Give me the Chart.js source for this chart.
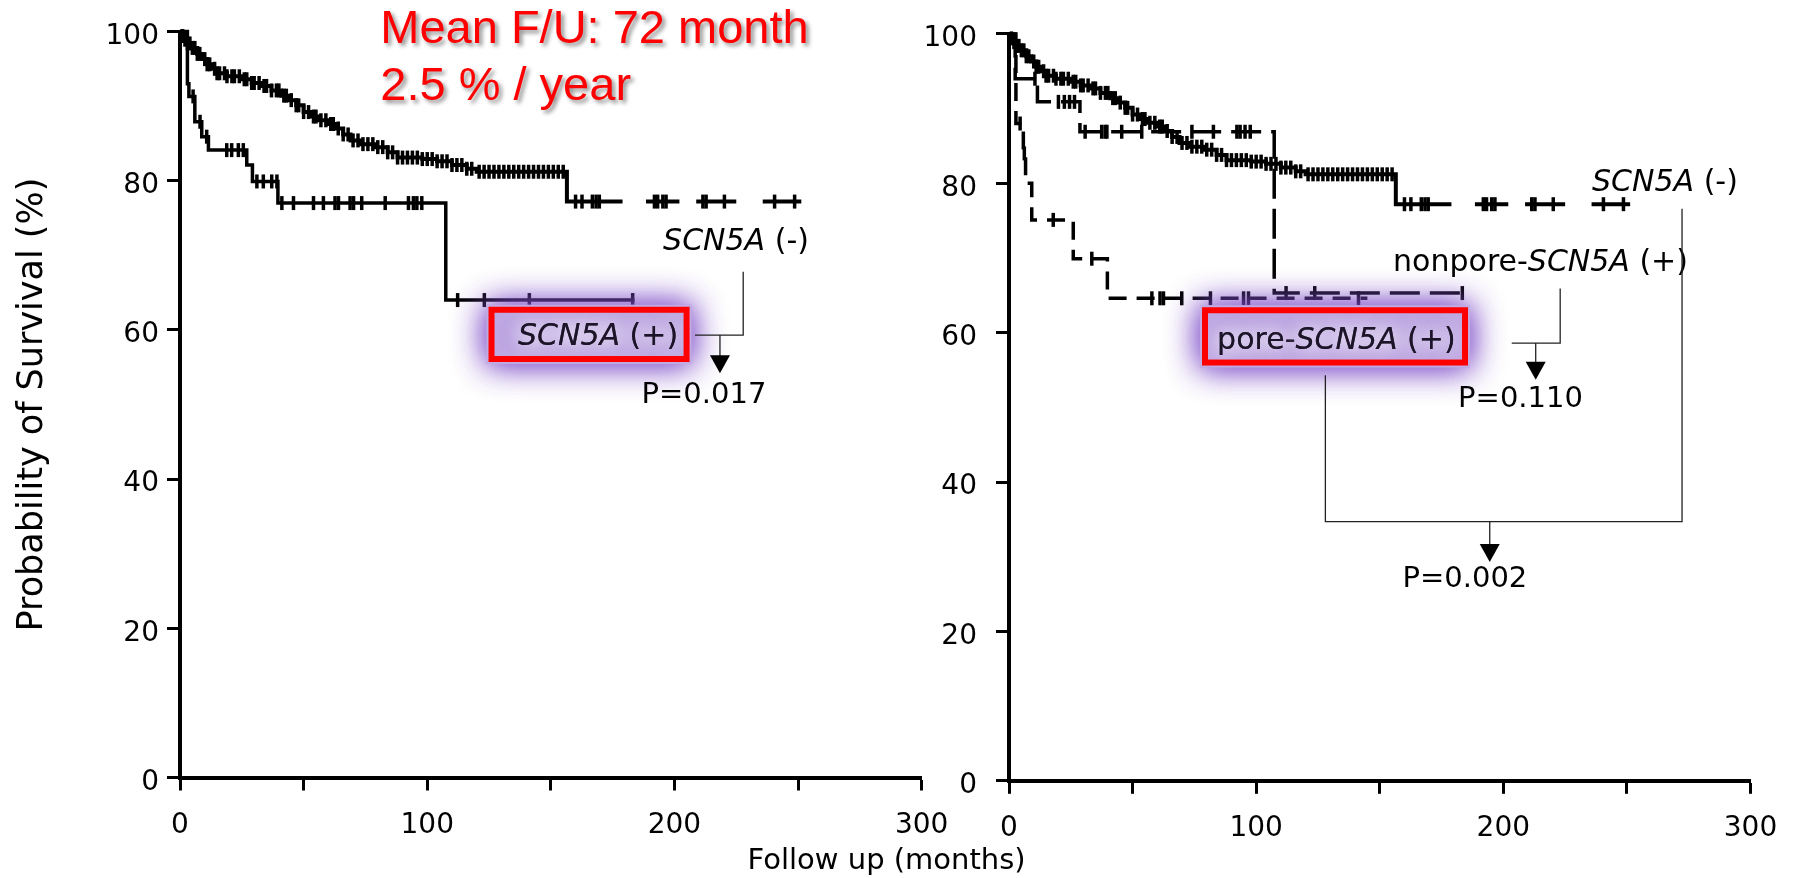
<!DOCTYPE html>
<html>
<head>
<meta charset="utf-8">
<title>SCN5A survival curves</title>
<script src="https://cdn.jsdelivr.net/npm/chart.js@4.4.1/dist/chart.umd.min.js"></script>
<style>
  html, body { margin: 0; padding: 0; background: #fff; }
  #wrap { position: relative; width: 1793px; height: 878px; }
  #wrap canvas { position: absolute; left: 0; top: 0; }
</style>
</head>
<body>
<div id="wrap">
  <canvas id="left" width="1793" height="878"></canvas>
  <canvas id="right" width="1793" height="878"></canvas>
</div>
<script>
// SCN5A (-) : event times (months) and survival (%) after each step, null = break in the drawn line
const negTime = [0, 1, 2, 3, 5, 7, 9, 11, 13, 15, 19, 25, 29, 33, 37, 41, 44, 47, 50, 53, 56, 60, 63, 66, 69, 73, 79, 84, 88, 98, 104, 110, 116, 120, 156.5, 179, 179, 188.5, 202, 202, 208.8, 225, 225, 235.7, 251.3];
const negSurv = [100, 99.4, 98.9, 98.4, 97.8, 97.0, 96.3, 95.6, 95.0, 94.4, 94.0, 93.6, 93.1, 92.7, 92.1, 91.4, 90.8, 90.1, 89.2, 88.6, 88.1, 87.6, 87.0, 86.2, 85.4, 84.9, 84.5, 83.8, 83.1, 82.9, 82.6, 82.1, 81.6, 81.2, 77.2, 77.2, null, 77.2, 77.2, null, 77.2, 77.2, null, 77.2, 77.2];
const negCensor = [1, 2, 3, 4, 5, 6, 7, 8, 10, 11, 12, 14, 15, 16, 18, 19, 21, 22, 24, 26, 27, 29, 30, 32, 34, 35, 37, 39, 40, 42, 43, 45, 47, 48, 50, 52, 54, 55, 57, 59, 61, 62, 64, 66, 68, 70, 72, 74, 76, 78, 80, 82, 84, 86, 88, 90, 92, 94, 96, 98, 100, 102, 104, 106, 108, 110, 112, 114, 116, 118, 121, 123, 125, 127, 129, 131, 133, 135, 137, 139, 141, 143, 145, 147, 149, 151, 153, 155, 160, 162.6, 166.8, 168.3, 169.6, 191.9, 193.2, 195.3, 196.6, 211.5, 212.8, 220.2, 240.5, 248.6];

// SCN5A (+) (left panel)
const posTime = [0, 3.0, 3.6, 6.0, 8.8, 11.5, 27, 29.3, 39.6, 107.5, 183.8];
const posSurv = [100, 93.0, 91.3, 87.9, 85.9, 84.1, 82.1, 79.9, 77.0, 64.0, 64.0];
const posCensor = [5.3, 8.1, 10.8, 18.9, 20.9, 23.6, 25.6, 31.1, 33.7, 37.1, 39.2, 41.2, 45.9, 54, 58, 62.7, 64.1, 68.8, 70.2, 73.5, 83, 92.4, 94.4, 95.8, 97.8, 112.3, 123.1, 141.3, 183.1];

// nonpore-SCN5A (+) (right panel)
const nonTime = [0, 2.5, 11.5, 28.7, 107.3, 185];
const nonSurv = [100, 94.0, 90.9, 86.9, 65.3, 65.3];
const nonCensor = [10.5, 20, 22.4, 24.5, 26.5, 30.8, 37.5, 38.9, 39.6, 45.6, 53.7, 74, 82.7, 92.2, 93.5, 95.5, 97.6, 112.1, 123.7, 183.4];

// pore-SCN5A (+) (right panel)
const poreTime = [0, 2.8, 5.8, 6.7, 9.2, 26.0, 39.8, 145];
const poreSurv = [100, 88.0, 84.0, 80.0, 75.1, 69.9, 64.6, 64.6];
const poreCensor = [4.5, 6.2, 17.9, 33.5, 57.8, 61.1, 62.5, 69.9, 81.5, 94.9, 96.9, 141.4];

const xTicks = [0, 100, 200, 300];
const yTicks = [0, 20, 40, 60, 80, 100];

const FONT = 'DejaVu Sans';

// survival level of a curve at time t (for placing the censor ticks on it)
function levelAt(times, surv, t) {
    let y = surv[0];
    for (let i = 0; i < times.length; i++) {
        if (times[i] > t) break;
        if (surv[i] !== null) y = surv[i];
    }
    return y;
}

function curve(times, surv) {
    return times.map((t, i) => ({ x: t, y: surv[i] }));
}

function censorPoints(cens, times, surv) {
    return cens.map(t => ({ x: t, y: levelAt(times, surv, t) }));
}

function stepLine(label, data, width, dash) {
    return {
        label: label,
        data: data,
        borderColor: '#000',
        borderWidth: width,
        borderDash: dash || [],
        stepped: 'before',
        pointRadius: 0,
        fill: false,
        spanGaps: false,
        clip: false
    };
}

function censorSet(label, data) {
    return {
        label: label,
        data: data,
        showLine: false,
        pointStyle: 'line',
        rotation: 90,
        pointRadius: 7,
        pointBorderColor: '#000',
        pointBorderWidth: 3.5,
        clip: false
    };
}

function makeScales(yWidth, xHeight, yPad, withTitle) {
    return {
        x: {
            type: 'linear',
            min: 0,
            max: 300,
            ticks: {
                stepSize: 50,
                autoSkip: false,
                maxRotation: 0,
                padding: 18,
                color: '#000',
                font: { family: FONT, size: 28 },
                callback: v => xTicks.includes(v) ? String(v) : ''
            },
            grid: { drawOnChartArea: false, tickLength: 13, tickWidth: 3, tickColor: '#000' },
            border: { color: '#000', width: 4 },
            afterFit: s => { s.height = xHeight; s.paddingLeft = 0; s.paddingRight = 0; }
        },
        y: {
            min: 0,
            max: 100,
            ticks: {
                stepSize: 20,
                padding: yPad,
                labelOffset: 5,
                color: '#000',
                font: { family: FONT, size: 28 },
                callback: v => yTicks.includes(v) ? String(v) : ''
            },
            grid: { drawOnChartArea: false, tickLength: 13, tickWidth: 3, tickColor: '#000' },
            border: { color: '#000', width: 4 },
            title: {
                display: withTitle,
                text: 'Probability of Survival (%)',
                color: '#000',
                font: { family: FONT, size: 35 },
                padding: { top: 12, bottom: 0 }
            },
            afterFit: s => { s.width = yWidth; s.paddingTop = 0; s.paddingBottom = 0; }
        }
    };
}

// --- drawing helpers for the annotations ---
function richText(ctx, parts, x, y, size) {
    ctx.textAlign = 'left';
    ctx.textBaseline = 'alphabetic';
    let cx = x;
    parts.forEach(([txt, it]) => {
        ctx.font = (it ? 'italic ' : '') + size + 'px "' + FONT + '"';
        ctx.fillText(txt, cx, y);
        cx += ctx.measureText(txt).width;
    });
}

function glowBox(chart, x0, y0, x1, y1, parts, tx, ty) {
    const { ctx, scales: { x, y } } = chart;
    const l = x.getPixelForValue(x0), r = x.getPixelForValue(x1);
    const t = y.getPixelForValue(y0), b = y.getPixelForValue(y1);
    ctx.save();
    ctx.shadowColor = 'rgba(125, 75, 200, 1)';
    ctx.shadowBlur = 32;
    ctx.fillStyle = 'rgba(196, 176, 228, 0.85)';
    for (let i = 0; i < 2; i++) ctx.fillRect(l - 5, t - 5, r - l + 10, b - t + 10);
    ctx.restore();

    ctx.save();
    ctx.fillStyle = '#1c1428';
    ctx.shadowColor = 'rgba(255, 255, 255, 1)';
    ctx.shadowBlur = 18;
    richText(ctx, parts, x.getPixelForValue(tx), y.getPixelForValue(ty), 30);
    richText(ctx, parts, x.getPixelForValue(tx), y.getPixelForValue(ty), 30);
    ctx.restore();

    ctx.save();
    ctx.strokeStyle = '#ff0000';
    ctx.lineWidth = 6;
    ctx.strokeRect(l, t, r - l, b - t);
    ctx.restore();
}

function polyline(chart, pts) {
    const { ctx, scales: { x, y } } = chart;
    ctx.save();
    ctx.strokeStyle = '#222';
    ctx.lineWidth = 1.3;
    ctx.beginPath();
    pts.forEach(([px, py], i) => {
        const X = x.getPixelForValue(px), Y = y.getPixelForValue(py);
        if (i === 0) ctx.moveTo(X, Y); else ctx.lineTo(X, Y);
    });
    ctx.stroke();
    ctx.restore();
}

function arrowDown(chart, px, top, tip) {
    const { ctx, scales: { x, y } } = chart;
    const X = x.getPixelForValue(px);
    const T = y.getPixelForValue(top), P = y.getPixelForValue(tip);
    ctx.save();
    ctx.strokeStyle = '#222';
    ctx.lineWidth = 1.3;
    ctx.beginPath();
    ctx.moveTo(X, T);
    ctx.lineTo(X, P - 17);
    ctx.stroke();
    ctx.fillStyle = '#000';
    ctx.beginPath();
    ctx.moveTo(X - 10, P - 18);
    ctx.lineTo(X + 10, P - 18);
    ctx.lineTo(X, P);
    ctx.closePath();
    ctx.fill();
    ctx.restore();
}

function label(chart, parts, px, py, size) {
    const { ctx, scales: { x, y } } = chart;
    ctx.save();
    ctx.fillStyle = '#000';
    richText(ctx, parts, x.getPixelForValue(px), y.getPixelForValue(py), size);
    ctx.restore();
}

const leftNotes = {
    id: 'leftNotes',
    afterDatasetsDraw(chart) {
        glowBox(chart, 126.0, 62.7, 204.9, 56.1, [['SCN5A', true], [' (+)', false]], 136.7, 58.0);
    },
    afterDraw(chart) {
        const { ctx, scales: { x, y }, chartArea } = chart;
        label(chart, [['SCN5A', true], [' (-)', false]], 195.4, 70.7, 30);
        polyline(chart, [[227.8, 67.8], [227.8, 59.3], [208.3, 59.3]]);
        arrowDown(chart, 218.4, 59.3, 54.2);
        label(chart, [['P=0.017', false]], 186.7, 50.2, 29);

        // red headline
        ctx.save();
        ctx.font = '47px "Liberation Sans"';
        ctx.fillStyle = '#ff0000';
        ctx.textAlign = 'left';
        ctx.textBaseline = 'alphabetic';
        ctx.shadowColor = 'rgba(0, 0, 0, 0.45)';
        ctx.shadowOffsetX = 3;
        ctx.shadowOffsetY = 3;
        ctx.shadowBlur = 4;
        ctx.fillText('Mean F/U: 72 month', x.getPixelForValue(81.0), y.getPixelForValue(98.4));
        ctx.fillText('2.5 % / year', x.getPixelForValue(81.0), y.getPixelForValue(90.8));
        ctx.restore();

        // shared x axis title
        ctx.save();
        ctx.font = '29px "' + FONT + '"';
        ctx.fillStyle = '#000';
        ctx.textAlign = 'center';
        ctx.textBaseline = 'alphabetic';
        ctx.fillText('Follow up (months)', x.getPixelForValue(285.8), chartArea.bottom + 91.5);
        ctx.restore();
    }
};

const rightNotes = {
    id: 'rightNotes',
    afterDatasetsDraw(chart) {
        glowBox(chart, 79.3, 63.0, 184.5, 56.0, [['pore-', false], ['SCN5A', true], [' (+)', false]], 84.2, 57.8);
    },
    afterDraw(chart) {
        label(chart, [['SCN5A', true], [' (-)', false]], 235.9, 78.9, 30);
        label(chart, [['nonpore-', false], ['SCN5A', true], [' (+)', false]], 155.4, 68.2, 30);
        polyline(chart, [[223.0, 65.9], [223.0, 58.6], [203.4, 58.6]]);
        arrowDown(chart, 213.1, 58.6, 53.7);
        label(chart, [['P=0.110', false]], 181.7, 50.0, 29);
        polyline(chart, [[128.0, 54.3], [128.0, 34.7], [272.3, 34.7], [272.3, 76.6]]);
        arrowDown(chart, 194.5, 34.7, 29.3);
        label(chart, [['P=0.002', false]], 159.2, 25.9, 29);
    }
};

function baseOptions(scales, padding) {
    return {
        responsive: false,
        animation: false,
        devicePixelRatio: 1,
        events: [],
        layout: { padding: padding },
        plugins: { legend: { display: false }, tooltip: { enabled: false } },
        scales: scales
    };
}

new Chart(document.getElementById('left'), {
    type: 'line',
    data: {
        datasets: [
            stepLine('SCN5A (-)', curve(negTime, negSurv), 4),
            censorSet('SCN5A (-) censored', censorPoints(negCensor, negTime, negSurv)),
            stepLine('SCN5A (+)', curve(posTime, posSurv), 3.5),
            censorSet('SCN5A (+) censored', censorPoints(posCensor, posTime, posSurv))
        ]
    },
    options: baseOptions(makeScales(180, 100.5, 8, true), { top: 31.5, right: 871.3, left: 0, bottom: 0 }),
    plugins: [leftNotes]
});

new Chart(document.getElementById('right'), {
    type: 'line',
    data: {
        datasets: [
            stepLine('SCN5A (-)', curve(negTime, negSurv), 4),
            censorSet('SCN5A (-) censored', censorPoints(negCensor, negTime, negSurv)),
            stepLine('nonpore-SCN5A (+)', curve(nonTime, nonSurv), 3.5, [30, 10]),
            censorSet('nonpore censored', censorPoints(nonCensor, nonTime, nonSurv)),
            stepLine('pore-SCN5A (+)', curve(poreTime, poreSurv), 3.5, [18, 10]),
            censorSet('pore censored', censorPoints(poreCensor, poreTime, poreSurv))
        ]
    },
    options: baseOptions(makeScales(1009, 97.2, 19, false), { top: 33.9, right: 42.5, left: 0, bottom: 0 }),
    plugins: [rightNotes]
});
</script>
</body>
</html>
